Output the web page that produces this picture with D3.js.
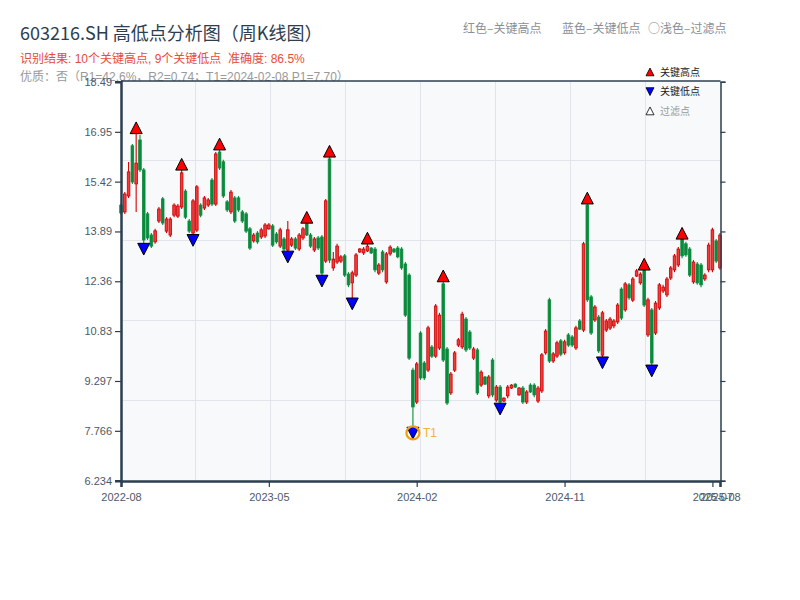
<!DOCTYPE html>
<html><head><meta charset="utf-8">
<script src="https://cdn.jsdelivr.net/npm/d3@7"></script>
<style>
body{margin:0;background:#fff;}
svg{display:block;font-family:"Liberation Sans","Noto Sans CJK SC",sans-serif;}
text{white-space:pre;}
</style>
</head><body><svg id="c" width="800" height="600"></svg>
<script>
// ---- data (weekly candles, index 0..158) ----
const opens=[14.70,14.49,14.98,16.52,15.35,16.70,15.78,14.43,13.78,13.57,14.21,14.89,13.90,13.78,14.39,14.36,14.64,15.13,14.21,13.84,
13.93,14.70,14.61,14.70,15.47,14.73,16.33,16.03,14.80,14.49,14.92,14.92,14.49,14.43,13.97,13.60,13.84,13.72,13.75,13.97,
14.06,13.81,13.44,13.66,13.32,13.47,13.66,13.35,13.69,14.12,13.78,13.32,13.69,13.72,12.98,16.12,12.77,12.95,12.98,13.14,
12.58,12.31,12.55,13.26,13.23,13.29,13.38,13.35,12.61,13.26,12.34,13.20,13.35,13.38,13.35,12.89,12.55,9.63,8.65,10.77,
9.85,9.63,10.34,10.06,10.31,12.28,10.28,8.93,9.63,10.40,10.34,11.20,10.80,10.00,10.25,9.17,9.42,8.84,9.94,8.71,
9.11,8.68,8.84,9.08,9.20,8.87,9.08,8.65,9.17,9.17,8.68,8.99,10.16,11.79,9.91,10.06,10.53,10.16,10.71,10.65,
10.31,11.14,10.86,14.70,11.88,11.17,11.26,10.09,10.86,10.92,10.99,11.11,12.12,11.48,12.25,11.78,12.52,12.31,12.77,10.71,
11.48,10.77,11.54,12.06,11.94,12.46,12.71,12.86,13.78,13.51,13.35,12.34,12.89,12.86,12.43,12.71,12.71,13.60,12.77];
const highs=[14.76,15.10,16.02,16.58,17.07,16.85,15.84,14.49,13.84,13.97,14.64,14.95,14.33,14.33,14.76,14.73,15.95,15.19,14.27,14.89,
15.32,14.76,14.98,14.92,15.53,16.33,16.57,16.09,14.86,15.16,14.98,14.98,14.55,14.49,14.03,13.84,13.90,14.00,14.15,14.15,
14.12,13.87,14.00,13.72,14.21,13.72,13.72,13.84,14.03,14.32,13.84,13.72,13.75,13.78,14.89,16.35,13.26,13.51,13.17,13.20,
12.64,12.68,13.23,13.38,13.41,13.68,13.41,13.41,12.92,13.32,13.26,13.47,13.38,13.44,13.41,12.95,12.61,9.70,9.88,10.83,
9.91,10.99,10.40,11.66,11.39,12.52,10.34,9.57,10.22,10.62,11.42,11.26,10.86,10.34,10.31,9.63,9.45,9.48,10.00,9.17,
9.17,8.80,9.17,9.20,9.23,9.11,9.14,9.02,9.23,9.23,9.14,10.16,10.89,11.85,10.19,10.53,10.59,10.56,10.77,10.71,
10.99,11.20,13.57,14.91,11.94,11.63,11.32,11.45,11.20,11.26,11.20,11.69,12.18,12.34,12.31,12.49,12.74,12.64,12.88,11.85,
11.54,11.75,12.31,12.25,12.49,12.83,13.20,13.41,13.83,13.57,13.41,13.01,12.95,12.92,12.61,13.54,14.00,13.66,13.84];
const lows=[14.40,14.43,14.92,15.35,14.49,15.72,13.35,13.63,13.38,13.51,14.15,14.09,13.84,13.72,14.33,14.30,14.58,14.27,13.84,13.62,
13.87,14.33,14.55,14.64,14.67,14.67,15.78,14.92,14.49,14.43,14.15,14.49,14.15,13.84,13.32,13.54,13.51,13.66,13.69,13.94,
13.41,13.51,13.38,13.29,13.11,13.41,13.32,13.29,13.63,13.75,13.38,13.26,13.32,12.37,12.92,12.92,12.68,12.89,12.92,12.49,
12.18,11.67,12.49,13.23,13.17,13.26,13.20,12.64,12.55,12.64,12.28,13.14,13.23,13.07,12.71,11.26,9.94,7.70,8.59,9.33,
9.33,9.57,10.00,10.00,10.25,9.88,8.56,8.87,9.57,10.34,10.28,10.19,10.25,9.94,8.87,9.11,9.17,8.77,8.80,8.65,
8.44,8.65,8.77,9.05,9.08,8.84,8.59,8.59,8.93,8.80,8.62,8.93,10.10,9.85,9.85,10.00,10.06,10.10,10.34,10.34,
10.25,10.86,10.80,11.72,10.71,11.11,10.16,9.86,10.80,10.86,10.92,11.05,11.17,11.42,11.79,11.72,12.49,12.25,11.57,10.65,
9.61,10.71,11.48,12.00,11.88,12.40,12.64,12.80,13.07,13.11,12.49,12.28,12.25,12.18,12.37,12.64,12.64,12.92,12.71];
const closes=[14.46,15.04,15.72,15.41,15.99,15.78,13.63,13.69,13.44,13.91,14.58,14.15,14.27,14.27,14.70,14.67,15.69,14.33,13.90,14.83,
15.26,14.39,14.92,14.86,14.73,16.27,15.84,14.98,14.55,15.10,14.21,14.55,14.21,13.90,13.38,13.78,13.57,13.94,14.09,14.09,
13.47,13.57,13.94,13.35,13.94,13.66,13.38,13.78,13.97,13.78,13.44,13.66,13.38,12.61,14.83,13.01,13.04,13.44,13.11,12.55,
12.25,12.62,13.17,13.35,13.35,13.44,13.23,12.71,12.86,12.71,13.20,13.41,13.26,13.11,12.77,11.32,10.00,8.50,9.82,9.39,
9.39,10.93,10.06,11.60,11.32,9.94,8.62,9.51,10.16,10.56,11.35,10.25,10.31,10.28,8.93,9.57,9.20,9.42,8.87,9.11,
8.65,8.77,9.11,9.17,9.11,9.08,8.65,8.96,8.96,8.87,9.08,10.10,10.83,9.91,10.13,10.47,10.12,10.50,10.40,10.40,
10.93,10.89,13.51,11.79,10.77,11.57,10.22,11.39,11.14,11.20,11.14,11.63,11.23,12.28,11.85,12.43,12.68,12.58,11.63,11.79,
9.85,11.69,12.25,12.18,12.43,12.77,13.14,13.35,13.14,13.17,12.55,12.95,12.31,12.25,12.55,13.47,13.94,12.98,13.78];
const keyHighIdx=[4,16,26,49,55,65,85,123,138,148];
const keyLowIdx=[6,19,44,53,61,77,100,127,140];
const t1Index=77;
const xTickIdx=[0,39,78,117,156,158];
const xTickLabels=["2022-08","2023-05","2024-02","2024-11","2025-07","2025-08"];
const yTickValues=[6.234,7.766,9.297,10.83,12.36,13.89,15.42,16.95,18.49];
const yTickLabels=["6.234","7.766","9.297","10.83","12.36","13.89","15.42","16.95","18.49"];

// ---- layout ----
const svg=d3.select("#c");
const L=121,R=720.5,T=81,B=481;
const x=d3.scaleLinear().domain([0,opens.length-1]).range([121,720]);
const y=d3.scaleLinear().domain([6.234,18.49]).range([480.7,81.7]);
const candles=opens.map((o,i)=>({i,o,h:highs[i],l:lows[i],c:closes[i]}));
const cjk="'Noto Sans CJK SC', sans-serif";

// titles (drawn first; plot covers part of third line)
svg.append("text").attr("x",20).attr("y",40).attr("font-size",18).attr("fill","#2c3e50")
  .attr("font-family",cjk).text("603216.SH 高低点分析图（周K线图）");
svg.append("text").attr("x",20).attr("y",63).attr("font-size",12).attr("fill","#e74c3c")
  .text("识别结果: 10个关键高点, 9个关键低点  准确度: 86.5%");
svg.append("text").attr("x",20).attr("y",81).attr("font-size",12).attr("fill","#999")
  .text("优质：否（R1=42.6%，R2=0.74；T1=2024-02-08 P1=7.70）");
const hdr=[["红色–关键高点",463],["蓝色–关键低点",562],["○浅色–过滤点",648]];
hdr.forEach(([t,px])=>svg.append("text").attr("x",px).attr("y",33).attr("font-size",12)
  .attr("font-family",cjk).attr("fill","#8a8f96").text(t));

// plot background
svg.append("rect").attr("x",L).attr("y",T).attr("width",R-L).attr("height",B-T).attr("fill","#f7f9fb");
// grid
const gy=d3.scaleLinear().domain([0,5]).range([480.5,80.5]);
const gx=d3.scaleLinear().domain([0,8]).range([120.5,720.5]);
const grid=svg.append("g").attr("stroke","#e1e5eb").attr("stroke-width",1);
d3.range(1,5).forEach(k=>grid.append("line").attr("x1",L).attr("x2",R).attr("y1",gy(k)).attr("y2",gy(k)));
d3.range(1,8).forEach(k=>grid.append("line").attr("y1",T).attr("y2",B).attr("x1",gx(k)).attr("x2",gx(k)));

// candles
const cg=svg.append("g");
const bw=2.6;
candles.forEach(d=>{
  const up=d.c>=d.o;
  const col=up?"#d40000":"#0a8a3c";
  cg.append("line").attr("x1",x(d.i)).attr("x2",x(d.i)).attr("y1",y(d.h)).attr("y2",y(d.l))
    .attr("stroke",col).attr("stroke-width",1.1);
  const top=y(Math.max(d.o,d.c)),bot=y(Math.min(d.o,d.c));
  cg.append("rect").attr("x",x(d.i)-bw/2).attr("y",top).attr("width",bw).attr("height",Math.max(1,bot-top))
    .attr("fill",up?"#f23a3a":"#0a8a3c").attr("stroke",up?"#c80000":"#0a8a3c").attr("stroke-width",0.8);
});

// axes
const axCol="#2c3e50";
const ya=svg.append("g").attr("transform",`translate(${L},0)`)
  .call(d3.axisLeft(y).tickValues(yTickValues).tickFormat((d,i)=>yTickLabels[i]).tickSize(6).tickPadding(3));
ya.select(".domain").attr("stroke",axCol).attr("stroke-width",2.5);
ya.selectAll(".tick line").attr("stroke",axCol).attr("stroke-width",1.2);
ya.selectAll(".tick text").attr("fill","#4f5866").attr("font-size",11).attr("font-family","Liberation Sans, sans-serif");
const yr=svg.append("g").attr("transform",`translate(${R},0)`)
  .call(d3.axisRight(y).tickValues(yTickValues).tickFormat("").tickSize(5));
yr.select(".domain").attr("stroke",axCol).attr("stroke-width",1.5);
yr.selectAll(".tick line").attr("stroke",axCol).attr("stroke-width",1.2);
const xa=svg.append("g").attr("transform",`translate(0,${B})`)
  .call(d3.axisBottom(x).tickValues(xTickIdx).tickFormat((d,i)=>xTickLabels[i]).tickSize(6).tickPadding(6));
xa.select(".domain").attr("stroke",axCol).attr("stroke-width",2.5);
xa.selectAll(".tick line").attr("stroke",axCol).attr("stroke-width",1.2);
xa.selectAll(".tick text").attr("fill","#4f5866").attr("font-size",11).attr("font-family","Liberation Sans, sans-serif");
svg.append("line").attr("x1",L).attr("x2",R).attr("y1",T).attr("y2",T).attr("stroke",axCol).attr("stroke-width",1.5);

// markers
const up=(cx,cy,s)=>`M${cx-s},${cy+s*0.95}L${cx+s},${cy+s*0.95}L${cx},${cy-s}Z`;
const dn=(cx,cy,s)=>`M${cx-s},${cy-s*0.95}L${cx+s},${cy-s*0.95}L${cx},${cy+s}Z`;
const mg=svg.append("g");
keyHighIdx.forEach(i=>mg.append("path").attr("d",up(x(i),y(highs[i]),6)).attr("fill","#ff0000").attr("stroke","#000").attr("stroke-width",1));
keyLowIdx.forEach(i=>mg.append("path").attr("d",dn(x(i),y(lows[i]),6)).attr("fill","#0000ff").attr("stroke","#000").attr("stroke-width",1));
// T1 highlight
mg.append("circle").attr("cx",x(t1Index)).attr("cy",y(lows[t1Index])).attr("r",6.5)
  .attr("fill","none").attr("stroke","#f39c12").attr("stroke-width",2.2);
mg.append("text").attr("x",x(t1Index)+10).attr("y",y(lows[t1Index])+4).attr("font-size",12)
  .attr("fill","#f5b041").text("T1");

// legend
const lg=svg.append("g");
const legItems=[{t:"关键高点",f:"#ff0000",s:"up",c:"#222"},{t:"关键低点",f:"#0000ff",s:"dn",c:"#222"},{t:"过滤点",f:"#ffffff",s:"up",c:"#999"}];
legItems.forEach((d,k)=>{
  const cy=72+k*19.5;
  lg.append("path").attr("d",d.s==="up"?up(650,cy,4):dn(650,cy,4)).attr("fill",d.f).attr("stroke","#000").attr("stroke-width",0.8);
  lg.append("text").attr("x",660).attr("y",cy+3.5).attr("font-size",10).attr("font-family",cjk).attr("fill",d.c).text(d.t);
});
</script>
</body></html>
